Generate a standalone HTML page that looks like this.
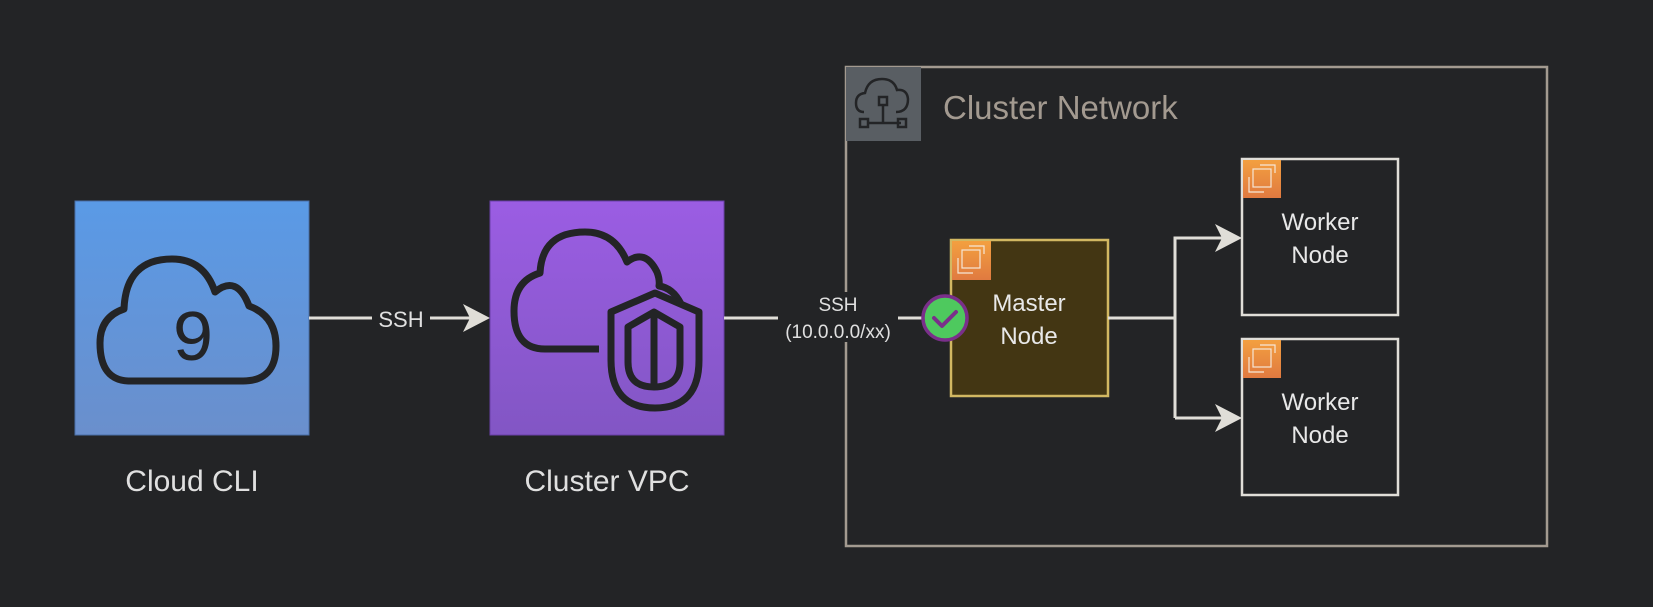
<!DOCTYPE html>
<html><head><meta charset="utf-8"><style>
html,body{margin:0;padding:0;background:#232426;}
svg{display:block;font-family:"Liberation Sans",Arial,sans-serif;}
</style></head><body>
<svg width="1653" height="607" viewBox="0 0 1653 607" xmlns="http://www.w3.org/2000/svg">
<defs>
<linearGradient id="gb" x1="0" y1="0" x2="0" y2="1"><stop offset="0" stop-color="#5a9ae6"/><stop offset="1" stop-color="#6a8fcc"/></linearGradient>
<linearGradient id="gp" x1="0" y1="0" x2="0" y2="1"><stop offset="0" stop-color="#9b5de3"/><stop offset="1" stop-color="#8256c4"/></linearGradient>
<linearGradient id="go" x1="0" y1="0" x2="0" y2="1"><stop offset="0" stop-color="#f3a040"/><stop offset="1" stop-color="#e07a40"/></linearGradient>
</defs>
<rect width="1653" height="607" fill="#232426"/>

<rect x="846" y="67" width="701" height="479" fill="none" stroke="#a39a90" stroke-width="2.5"/>
<rect x="846" y="67" width="75" height="74" fill="#595e63"/>
<g fill="none" stroke="#232426" stroke-width="2.5">
<path d="M864 112 q-8 0 -8 -9 q0 -9 9 -10 q3 -14 17 -14 q12 0 15 11 q10 -1 11 9 q0 13 -12 13"/>
<rect x="879" y="97" width="8" height="8"/>
<line x1="883" y1="105" x2="883" y2="123"/>
<line x1="867" y1="123" x2="901" y2="123"/>
<rect x="860" y="119" width="8" height="8"/><rect x="898" y="119" width="8" height="8"/>
</g>
<text x="943" y="119" font-size="33" fill="#a39a90">Cluster Network</text>

<rect x="75" y="201" width="234" height="234" fill="url(#gb)" stroke="#4a6fa8" stroke-width="1"/>
<path d="M130 381 q-30 0 -30 -38 q0 -26 24 -34 q2 -50 48 -50 q32 0 43 33 q22 -18 34 14 q27 10 27 40 q0 35 -33 35 z" fill="none" stroke="#232426" stroke-width="7" stroke-linejoin="round"/>
<text x="193" y="360" font-size="72" text-anchor="middle" fill="#232426" font-family="Liberation Mono,monospace">9</text>
<text x="192" y="491" font-size="30" text-anchor="middle" fill="#e0e0e0">Cloud CLI</text>

<line x1="309" y1="318" x2="480" y2="318" stroke="#e0ded8" stroke-width="3"/>
<rect x="372" y="306" width="58" height="24" fill="#232426"/>
<text x="401" y="327" font-size="22" text-anchor="middle" fill="#e0e0e0">SSH</text>
<path d="M490 318 L463 304 L470 318 L463 332 Z" fill="#e0ded8"/>

<rect x="490" y="201" width="234" height="234" fill="url(#gp)" stroke="#6a3fa8" stroke-width="1"/>
<g fill="none" stroke="#232426" stroke-width="7" stroke-linejoin="round">
<path d="M599 349 L545 349 q-31 0 -31 -38 q0 -30 26 -38 q2 -41 45 -41 q30 0 42 30 q18 -14 30 10 q3 8 2 14 q14 2 22 18"/>
<path d="M611 312 L655 293 L699 312 L699 360 q0 48 -44 48 q-44 0 -44 -48 Z"/>
<path d="M628 327 L654 312 L680 327 L680 362 q0 25 -26 25 q-26 0 -26 -25 Z"/>
<line x1="654" y1="312" x2="654" y2="387"/>
</g>
<text x="607" y="491" font-size="30" text-anchor="middle" fill="#e0e0e0">Cluster VPC</text>

<line x1="724" y1="318" x2="925" y2="318" stroke="#e0ded8" stroke-width="3"/>
<rect x="778" y="292" width="120" height="50" fill="#232426"/>
<text x="838" y="311" font-size="19" text-anchor="middle" fill="#e0e0e0">SSH</text>
<text x="838" y="338" font-size="19" text-anchor="middle" fill="#e0e0e0">(10.0.0.0/xx)</text>

<rect x="951" y="240" width="157" height="156" fill="#433613" stroke="#d2b862" stroke-width="2.5"/>
<rect x="952" y="241" width="39" height="39" fill="url(#go)"/>
<g fill="none" stroke="#f5e6d5" stroke-width="1.2"><rect x="962" y="250" width="18" height="18"/><path d="M958 258 v15 h15 M984 254 v-8 h-15"/></g>
<text x="1029" y="311" font-size="24" text-anchor="middle" fill="#e8e8e8">Master</text>
<text x="1029" y="344" font-size="24" text-anchor="middle" fill="#e8e8e8">Node</text>
<circle cx="945" cy="318" r="22" fill="#4ec95e" stroke="#7a2f8a" stroke-width="3.5"/>
<path d="M934 318 l8 8 l14 -14" fill="none" stroke="#7a2f8a" stroke-width="4" stroke-linecap="round" stroke-linejoin="round"/>

<g stroke="#e0ded8" stroke-width="3" fill="none">
<polyline points="1108,318 1175,318"/>
<polyline points="1175,418 1175,238 1232,238"/>
<polyline points="1175,418 1232,418"/>
</g>
<path d="M1242 238 L1215 224 L1222 238 L1215 252 Z" fill="#e0ded8"/>
<path d="M1242 418 L1215 404 L1222 418 L1215 432 Z" fill="#e0ded8"/>

<rect x="1242" y="159" width="156" height="156" fill="none" stroke="#e0ded8" stroke-width="2.5"/>
<rect x="1243" y="160" width="38" height="38" fill="url(#go)"/>
<g fill="none" stroke="#f5e6d5" stroke-width="1.2"><rect x="1253" y="169" width="18" height="18"/><path d="M1249 177 v15 h15 M1275 173 v-8 h-15"/></g>
<text x="1320" y="230" font-size="24" text-anchor="middle" fill="#e8e8e8">Worker</text>
<text x="1320" y="263" font-size="24" text-anchor="middle" fill="#e8e8e8">Node</text>

<rect x="1242" y="339" width="156" height="156" fill="none" stroke="#e0ded8" stroke-width="2.5"/>
<rect x="1243" y="340" width="38" height="38" fill="url(#go)"/>
<g fill="none" stroke="#f5e6d5" stroke-width="1.2"><rect x="1253" y="349" width="18" height="18"/><path d="M1249 357 v15 h15 M1275 353 v-8 h-15"/></g>
<text x="1320" y="410" font-size="24" text-anchor="middle" fill="#e8e8e8">Worker</text>
<text x="1320" y="443" font-size="24" text-anchor="middle" fill="#e8e8e8">Node</text>
</svg>
</body></html>
